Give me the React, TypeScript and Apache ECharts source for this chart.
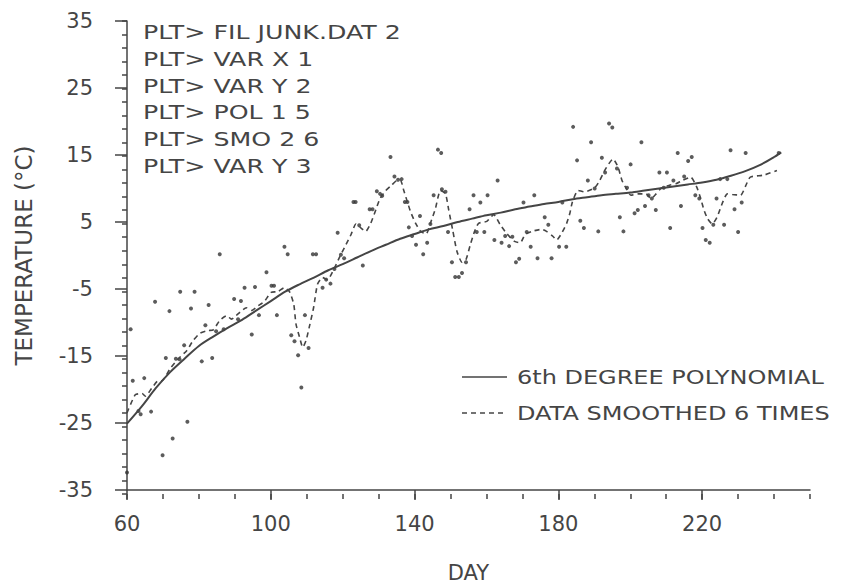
import React, { useEffect, useRef } from "react";
import * as echarts from "echarts";

// Observed daily temperatures (day, °C)
const obsDay = [60.0, 61.0, 61.6, 63.2, 63.8, 64.8, 66.7, 67.8, 69.9, 70.8, 71.8, 72.7, 73.6, 74.6, 74.8, 75.9, 76.8, 77.8, 78.8, 80.8, 81.8, 82.7, 83.7, 84.8, 85.8, 86.9, 89.8, 90.9, 91.7, 92.7, 94.7, 95.6, 96.7,
  98.8, 100.2, 100.9, 101.7, 103.8, 104.7, 105.7, 106.6, 107.6, 108.5, 109.5, 110.5, 111.7, 112.6, 114.4, 115.4, 116.6, 117.7, 118.6, 119.5, 120.4, 123.0, 123.6, 124.6, 125.6, 127.5, 128.3, 129.5, 130.4, 131.0, 133.3, 134.4,
  135.4, 136.4, 137.3, 138.0, 138.4, 139.3, 140.4, 141.5, 142.4, 143.5, 144.4, 145.3, 146.5, 147.4, 147.6, 148.6, 149.3, 150.4, 151.3, 152.3, 153.2, 154.3, 155.3, 156.4, 157.3, 158.3, 159.4, 160.3, 162.2, 163.1, 164.2, 165.2, 166.3, 167.2, 168.2, 169.1, 170.3, 171.2,
  172.3, 173.3, 174.2, 176.2, 177.2, 178.1, 180.2, 181.1, 182.2, 184.1, 185.2, 186.1, 187.1, 188.2, 189.1, 190.1, 191.1, 192.1, 193.0, 194.1, 195.0, 196.3, 197.1, 198.1, 199.1, 200.1, 201.2, 202.1, 203.1, 204.1, 205.1, 206.0, 207.1, 208.1,
  209.3, 210.2, 211.1, 212.0, 213.2, 214.1, 215.0, 216.1, 217.1, 218.1, 219.2, 220.1, 221.0, 222.1, 223.1, 224.0, 225.0, 226.1, 227.0, 227.9, 229.0, 230.0, 231.0, 232.1, 241.3];
const obsTemp = [-32.4, -11.0, -18.7, -23.2, -23.7, -18.3, -23.3, -6.9, -29.8, -15.3, -8.3, -27.3, -15.4, -15.5, -5.4, -13.4, -24.8, -7.9, -5.4, -15.8, -10.4, -7.4, -15.3, -11.3, 0.2, -11.0, -6.5, -9.5, -6.8, -4.8, -11.8, -4.7, -8.9,
  -2.5, -4.5, -4.5, -8.9, 1.3, 0.2, -11.9, -12.8, -14.9, -19.7, -8.9, -13.8, 0.2, 0.2, -4.8, -3.6, -4.2, -2.0, 3.4, 0.1, -0.4, 8.0, 8.0, 4.5, -1.5, 6.9, 6.9, 9.6, 9.2, 8.9, 14.7, 11.8,
  11.3, 11.4, 8.0, 8.0, 4.2, 2.9, 1.6, 5.9, 0.2, 1.9, 4.7, 9.0, 15.8, 15.3, 9.9, 9.5, 3.5, -1.0, -3.2, -3.2, -2.6, -1.0, 6.9, 9.0, 3.5, 7.9, 3.5, 9.0, 2.3, 11.2, 1.9, 2.9, 1.4, 2.8, -1.0, -0.5, 7.9, 3.5,
  1.3, 9.0, -0.4, 5.7, 4.6, -0.4, 1.3, 7.9, 1.3, 19.2, 14.2, 5.2, 4.1, 11.2, 16.9, 10.0, 3.6, 14.6, 12.4, 19.7, 19.1, 13.0, 5.7, 3.6, 10.1, 13.6, 6.3, 6.8, 16.9, 7.4, 9.0, 8.5, 6.8, 12.4,
  10.1, 12.4, 4.1, 11.2, 15.3, 7.4, 11.8, 14.1, 14.7, 9.0, 8.5, 4.1, 2.3, 1.9, 4.6, 8.5, 11.4, 4.6, 11.4, 15.7, 6.9, 3.5, 7.9, 15.3, 15.3];

// Data smoothed 6 times
const smoothDay = [60, 62.3, 64.2, 65.1, 66.9, 68.7, 69.7, 72, 74.3, 76.6, 78.4, 80.3, 82.6, 84, 85.8, 87.7, 89.1, 90.9, 93.2, 94.6, 96.5, 98.3, 100.1, 101.9, 103.8, 105.2, 106.4, 107, 108, 108.9, 109.8, 110.7, 111.9, 113, 114.4, 115.8, 117.5, 119, 120.9, 122.3, 123.7, 125.1, 126.4, 127.8, 129.2, 130.4, 132, 133.6, 135.2, 136.1, 137, 138, 138.9, 140.3, 141.7, 143.2, 144.4, 145.8, 147.2, 148.6, 149.5, 150.6, 151.8, 153.2, 154.3, 155.5, 156.7, 157.8, 160.1, 162, 163.8, 165.6, 167.8, 169.4, 170.7, 172.6, 175.3, 176.7, 178.6, 179.5, 180.9, 182.3, 183.2, 183.9, 185.5, 187.3, 190.1, 191.5, 193.1, 195.2, 196.6, 197.7, 198.9, 200.2, 202.1, 204.4, 205.8, 207.2, 208.5, 210.9, 212.7, 214.5, 216.8, 218.5, 219.6, 220.5, 221.5, 222.8, 224.2, 225.6, 227, 228.4, 230.7, 232.1, 233.4, 237.2, 240.8];
const smoothTemp = [-23.5, -20.8, -20.6, -21.0, -19.8, -18.7, -18.7, -16.9, -15.4, -14.2, -12.7, -11.6, -11.2, -11.1, -9.7, -9.0, -9.5, -8.7, -7.8, -8.2, -7.5, -6.8, -5.5, -5.4, -4.8, -5.4, -7.3, -10.2, -12.2, -13.7, -12.7, -10.7, -7.8, -4.3, -3.3, -3.6, -2.1, -0.4, 1.6, 3.1, 4.7, 4.1, 3.6, 4.8, 6.8, 8.5, 9.7, 10.5, 11.2, 11.2, 9.7, 8.0, 6.5, 4.8, 3.6, 3.2, 4.8, 7.0, 9.7, 9.2, 6.8, 3.8, 0.6, -1.0, -0.6, 1.6, 3.6, 4.8, 5.1, 6.1, 4.6, 3.3, 2.1, 1.9, 3.1, 3.6, 3.9, 3.6, 2.8, 2.3, 3.3, 4.8, 6.3, 8.0, 9.7, 9.5, 10.1, 11.2, 12.9, 14.4, 13.2, 11.2, 10.0, 9.0, 9.2, 9.2, 8.5, 9.2, 10.0, 10.5, 10.7, 11.2, 11.7, 10.2, 8.5, 6.8, 5.5, 4.7, 5.8, 7.8, 9.2, 9.1, 9.0, 10.4, 11.7, 12.0, 12.7];

// 6th degree polynomial fit
const polyDay = [60, 64, 68, 72, 76, 80, 84, 88, 92, 96, 100, 104, 108, 112, 116, 120, 124, 128, 132, 136, 140, 144, 148, 152, 156, 160, 164, 168, 172, 176, 180, 184, 188, 192, 196, 200, 204, 208, 212, 216, 220, 224, 228, 232, 236, 240, 242];
const polyTemp = [-25.1, -22.6, -19.8, -17.4, -15.4, -13.5, -12.1, -10.8, -9.6, -8.2, -6.8, -5.4, -4.3, -3.3, -2.2, -1.3, -0.3, 0.7, 1.6, 2.5, 3.2, 3.9, 4.4, 5.0, 5.5, 6.0, 6.4, 6.9, 7.3, 7.7, 8.0, 8.4, 8.7, 9.0, 9.2, 9.4, 9.7, 10.0, 10.3, 10.6, 10.9, 11.3, 11.9, 12.6, 13.5, 14.7, 15.4];

const xMajor = [60, 100, 140, 180, 220];
const xMinor = [60, 70, 80, 90, 100, 110, 120, 130, 140, 150, 160, 170, 180, 190, 200, 210, 220, 230, 240, 250];
const yMajor = [-35, -25, -15, -5, 5, 15, 25, 35];
const yMinor = [-35, -33, -31, -29, -27, -25, -23, -21, -19, -17, -15, -13, -11, -9, -7, -5, -3, -1, 1, 3, 5, 7, 9, 11, 13, 15, 17, 19, 21, 23, 25, 27, 29, 31, 33, 35];

const commandLines = ["PLT> FIL JUNK.DAT 2", "PLT> VAR X 1", "PLT> VAR Y 2", "PLT> POL 1 5", "PLT> SMO 2 6", "PLT> VAR Y 3"];
const legendNames = ["6th DEGREE POLYNOMIAL", "DATA SMOOTHED 6 TIMES"];

const INK = "#454545";
const FONT = "DejaVu Sans";

export default function App() {
  const ref = useRef<HTMLDivElement>(null);
  useEffect(() => {
    if (!ref.current) return;
    const chart = echarts.init(ref.current, null, { renderer: "svg" });
    const ls = () => ({ color: INK, width: 1.5 });
    const lab = () => ({ color: INK, fontSize: 21, fontFamily: FONT });
    chart.setOption({
      animation: false,
      backgroundColor: "#ffffff",
      grid: [
        { left: 127, right: 31, top: 21, bottom: 94 },
        { left: 127, right: 31, top: 21, bottom: 94 },
      ],
      xAxis: [
        {
          type: "value", gridIndex: 0, min: 60, max: 250, interval: 10,
          splitLine: { show: false },
          axisLine: { show: true, onZero: false, lineStyle: ls() },
          axisTick: { show: true, customValues: xMajor, length: 10, lineStyle: ls() },
          axisLabel: { show: true, customValues: xMajor, margin: 23, ...lab() },
          name: "DAY", nameLocation: "middle", nameGap: 72,
          nameTextStyle: { ...lab(), verticalAlign: "top" },
        },
        {
          type: "value", gridIndex: 1, min: 60, max: 250, interval: 10,
          splitLine: { show: false },
          axisLine: { show: false, onZero: false },
          axisTick: { show: true, customValues: xMinor, length: 5, lineStyle: ls() },
          axisLabel: { show: false },
        },
      ],
      yAxis: [
        {
          type: "value", gridIndex: 0, min: -35, max: 35,
          splitLine: { show: false },
          axisLine: { show: true, onZero: false, lineStyle: ls() },
          axisTick: { show: true, customValues: yMajor, length: 12, lineStyle: ls() },
          axisLabel: { show: true, customValues: yMajor, margin: 34, ...lab() },
          name: "TEMPERATURE (°C)", nameLocation: "middle", nameGap: 92,
          nameTextStyle: { ...lab(), fontSize: 23 },
        },
        {
          type: "value", gridIndex: 1, min: -35, max: 35,
          splitLine: { show: false },
          axisLine: { show: false, onZero: false },
          axisTick: { show: true, customValues: yMinor, length: 5, lineStyle: ls() },
          axisLabel: { show: false },
        },
      ],
      series: [
        {
          type: "scatter", name: "observed", xAxisIndex: 0, yAxisIndex: 0,
          data: obsDay.map((d, i) => [d, obsTemp[i]]),
          symbol: "circle", symbolSize: 4,
          itemStyle: { color: "#333" },
        },
        {
          type: "line", name: legendNames[0], xAxisIndex: 0, yAxisIndex: 0,
          data: polyDay.map((d, i) => [d, polyTemp[i]]),
          showSymbol: false, smooth: 0.3,
          lineStyle: { color: INK, width: 2 },
        },
        {
          type: "line", name: legendNames[1], xAxisIndex: 0, yAxisIndex: 0,
          data: smoothDay.map((d, i) => [d, smoothTemp[i]]),
          showSymbol: false, smooth: 0.2,
          lineStyle: { color: INK, width: 1.6, type: [5, 4] },
        },
      ],
      graphic: [
        {
          type: "text", x: 143, y: 19, scaleX: 1.33,
          style: { text: commandLines.join("\n"), font: `19px ${FONT}`, fill: INK, lineHeight: 26.7 },
        },
        { type: "line", shape: { x1: 462, y1: 377, x2: 507, y2: 377 }, style: { stroke: INK, lineWidth: 1.5 } },
        { type: "line", shape: { x1: 462, y1: 413, x2: 507, y2: 413 }, style: { stroke: INK, lineWidth: 1.5, lineDash: [5, 4] } },
        { type: "text", x: 517, y: 377, scaleX: 1.2, style: { text: legendNames[0], font: `20px ${FONT}`, fill: INK, verticalAlign: "middle" } },
        { type: "text", x: 517, y: 413, scaleX: 1.2, style: { text: legendNames[1], font: `20px ${FONT}`, fill: INK, verticalAlign: "middle" } },
      ],
    });
    return () => chart.dispose();
  }, []);
  return <div ref={ref} style={{ width: 841, height: 588, position: "absolute", left: 0, top: 0 }} />;
}
